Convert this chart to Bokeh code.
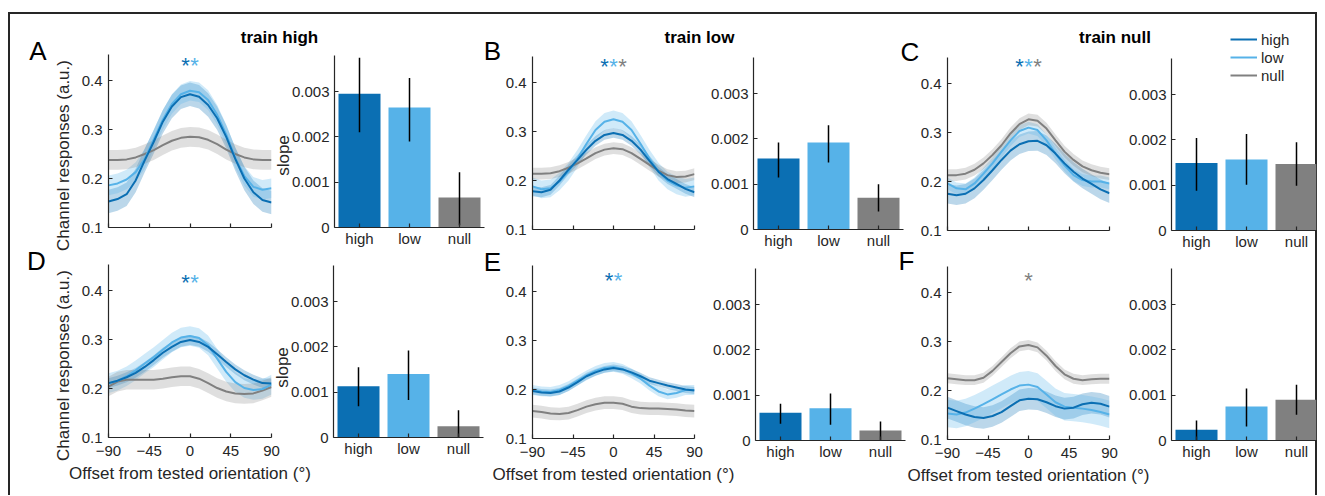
import math
import numpy as np
from bokeh.plotting import figure
from bokeh.models import (GridBox, Div, Range1d, FixedTicker, Label, Legend,
                          LegendItem, ColumnDataSource)
from bokeh.embed import file_html
from bokeh.resources import INLINE

FONT = "Liberation Sans"
INK = "#262626"

# ---------------------------------------------------------------- data
offsets = [-90, -80, -70, -60, -50, -40, -30, -20, -10, 0, 10, 20, 30, 40, 50, 60, 70, 80, 90]
conditions = ["high", "low", "null"]
cond_colors = ["#0b6fb3", "#56b2e8", "#808080"]

A_high = [0.153, 0.158, 0.168, 0.196, 0.237, 0.275, 0.316, 0.347, 0.366, 0.372, 0.367, 0.350, 0.323, 0.285, 0.240, 0.200, 0.172, 0.156, 0.151]
A_low = [0.186, 0.190, 0.198, 0.213, 0.240, 0.280, 0.320, 0.352, 0.372, 0.379, 0.376, 0.360, 0.330, 0.290, 0.242, 0.205, 0.183, 0.177, 0.180]
A_null = [0.238, 0.238, 0.239, 0.243, 0.250, 0.258, 0.268, 0.277, 0.283, 0.285, 0.284, 0.279, 0.270, 0.259, 0.250, 0.243, 0.239, 0.238, 0.238]
A_sem = [0.024, 0.020, 0.020]

B_high = [0.178, 0.176, 0.181, 0.200, 0.222, 0.242, 0.263, 0.281, 0.293, 0.297, 0.293, 0.281, 0.263, 0.240, 0.218, 0.203, 0.193, 0.183, 0.176]
B_low = [0.188, 0.182, 0.184, 0.198, 0.218, 0.245, 0.275, 0.303, 0.320, 0.325, 0.320, 0.303, 0.275, 0.245, 0.218, 0.200, 0.190, 0.185, 0.188]
B_null = [0.214, 0.214, 0.215, 0.219, 0.226, 0.235, 0.245, 0.256, 0.263, 0.266, 0.264, 0.256, 0.244, 0.232, 0.220, 0.211, 0.207, 0.208, 0.213]
B_sem = [0.010, 0.018, 0.012]

C_high = [0.175, 0.172, 0.175, 0.186, 0.203, 0.223, 0.244, 0.263, 0.276, 0.282, 0.283, 0.274, 0.257, 0.237, 0.220, 0.206, 0.195, 0.184, 0.176]
C_low = [0.196, 0.186, 0.184, 0.196, 0.216, 0.237, 0.261, 0.284, 0.303, 0.310, 0.305, 0.284, 0.257, 0.233, 0.213, 0.203, 0.200, 0.200, 0.196]
C_null = [0.213, 0.213, 0.216, 0.224, 0.237, 0.254, 0.274, 0.298, 0.317, 0.327, 0.324, 0.308, 0.284, 0.261, 0.244, 0.231, 0.223, 0.218, 0.215]
C_sem = [0.020, 0.012, 0.012]

D_high = [0.211, 0.216, 0.223, 0.232, 0.244, 0.258, 0.273, 0.285, 0.295, 0.299, 0.295, 0.285, 0.270, 0.254, 0.239, 0.227, 0.218, 0.211, 0.210]
D_low = [0.211, 0.216, 0.225, 0.237, 0.251, 0.264, 0.279, 0.294, 0.304, 0.307, 0.303, 0.288, 0.261, 0.234, 0.213, 0.201, 0.197, 0.199, 0.208]
D_null = [0.204, 0.214, 0.218, 0.218, 0.218, 0.218, 0.220, 0.223, 0.225, 0.225, 0.220, 0.211, 0.201, 0.194, 0.190, 0.189, 0.190, 0.196, 0.203]
D_sem = [0.010, 0.020, 0.020]

E_high = [0.197, 0.194, 0.193, 0.196, 0.204, 0.215, 0.227, 0.235, 0.241, 0.244, 0.241, 0.235, 0.227, 0.218, 0.213, 0.208, 0.204, 0.200, 0.198]
E_low = [0.199, 0.196, 0.195, 0.199, 0.207, 0.218, 0.229, 0.238, 0.244, 0.246, 0.242, 0.233, 0.222, 0.208, 0.196, 0.190, 0.193, 0.199, 0.199]
E_null = [0.156, 0.154, 0.151, 0.150, 0.152, 0.158, 0.165, 0.170, 0.173, 0.173, 0.171, 0.165, 0.162, 0.161, 0.161, 0.160, 0.159, 0.157, 0.156]
E_sem = [0.007, 0.010, 0.013]

F_high = [0.165, 0.158, 0.151, 0.146, 0.144, 0.148, 0.156, 0.168, 0.180, 0.183, 0.182, 0.176, 0.168, 0.163, 0.165, 0.172, 0.175, 0.173, 0.167]
F_low = [0.153, 0.151, 0.155, 0.163, 0.172, 0.182, 0.192, 0.202, 0.210, 0.212, 0.207, 0.192, 0.176, 0.167, 0.165, 0.163, 0.160, 0.156, 0.151]
F_null = [0.225, 0.223, 0.221, 0.221, 0.226, 0.240, 0.258, 0.276, 0.290, 0.293, 0.288, 0.271, 0.250, 0.233, 0.224, 0.221, 0.223, 0.224, 0.224]
F_sem = [0.022, 0.028, 0.010]

A_slope = [0.00295, 0.00265, 0.00066]
A_slope_lo = [0.00210, 0.00190, 0.00005]
A_slope_hi = [0.00375, 0.00330, 0.00122]
B_slope = [0.00157, 0.00192, 0.00070]
B_slope_lo = [0.00115, 0.00148, 0.00040]
B_slope_hi = [0.00192, 0.00230, 0.00100]
C_slope = [0.00149, 0.00157, 0.00147]
C_slope_lo = [0.00088, 0.00101, 0.00099]
C_slope_hi = [0.00204, 0.00213, 0.00195]
D_slope = [0.00113, 0.00140, 0.00025]
D_slope_lo = [0.00069, 0.00083, -0.00010]
D_slope_hi = [0.00155, 0.00192, 0.00060]
E_slope = [0.00061, 0.00071, 0.00022]
E_slope_lo = [0.00037, 0.00035, 0.00000]
E_slope_hi = [0.00081, 0.00104, 0.00042]
F_slope = [0.00024, 0.00075, 0.00090]
F_slope_lo = [-0.00003, 0.00031, 0.00057]
F_slope_hi = [0.00044, 0.00115, 0.00123]

line_y_ticks = [0.1, 0.2, 0.3, 0.4]
offset_ticks = [-90, -45, 0, 45, 90]
offset_tick_labels = ["\u221290", "\u221245", "0", "45", "90"]
slope_ticks = [0, 0.001, 0.002, 0.003]
slope_tick_labels = ["0", "0.001", "0.002", "0.003"]

titles = ["train high", "train low", "train null"]
stars = {"A": ["high", "low"], "B": ["high", "low", "null"], "C": ["high", "low", "null"],
         "D": ["high", "low"], "E": ["high", "low"], "F": ["null"]}

panels = {
    "A": (A_high, A_low, A_null, A_sem, A_slope, A_slope_lo, A_slope_hi),
    "B": (B_high, B_low, B_null, B_sem, B_slope, B_slope_lo, B_slope_hi),
    "C": (C_high, C_low, C_null, C_sem, C_slope, C_slope_lo, C_slope_hi),
    "D": (D_high, D_low, D_null, D_sem, D_slope, D_slope_lo, D_slope_hi),
    "E": (E_high, E_low, E_null, E_sem, E_slope, E_slope_lo, E_slope_hi),
    "F": (F_high, F_low, F_null, F_sem, F_slope, F_slope_lo, F_slope_hi),
}

# ---------------------------------------------------------------- layout (page px)
# frame: (left, right, top, bottom); canvas: (left, right, top, bottom)
LINE_GEOM = {
    "A": ((108, 271, 54, 227), (60, 277, 40, 257)),
    "B": ((532, 694, 56, 229), (490, 700, 40, 259)),
    "C": ((947, 1109, 57, 230), (905, 1115, 40, 260)),
    "D": ((108, 271, 264, 437), (60, 325, 250, 494)),
    "E": ((532, 694, 265, 438), (490, 745, 250, 494)),
    "F": ((947, 1109, 266, 439), (905, 1160, 250, 494)),
}
BAR_GEOM = {
    "A": ((334, 484, 55, 227), (285, 488, 45, 255)),
    "B": ((753, 903, 57, 229), (705, 907, 45, 257)),
    "C": ((1171, 1316, 58, 230), (1125, 1317, 45, 258)),
    "D": ((333, 483, 265, 437), (285, 487, 255, 466)),
    "E": ((755, 905, 268, 440), (705, 909, 258, 468)),
    "F": ((1171, 1316, 268, 440), (1121, 1317, 258, 468)),
}
OVERLAY_W, OVERLAY_H = 1317, 494
LETTER_POS = {"A": (37.5, 50.5), "B": (492, 50), "C": (909.5, 51),
              "D": (36, 260.5), "E": (492, 261), "F": (906, 260.5)}
STAR_Y = {"A": 61.7, "B": 63.3, "C": 63.3, "D": 279, "E": 276.7, "F": 277.3}
TITLE_POS = {"A": (279, 37), "B": (699, 37), "C": (1114.5, 37)}
YLABEL_POS = [(63.3, 155), (63.3, 365)]
SLOPE_POS = [(283, 155), (282, 367)]
LEGEND_TOPLEFT = (1230, 30)
BAR_UNIT_PX = 50.0


def make_fig(geom, x_range, y_range):
    (FL, FR, FT, FB), (CL, CR, CT, CB) = geom
    p = figure(width=CR - CL, height=CB - CT, x_range=x_range, y_range=y_range,
               output_backend="svg", toolbar_location=None, title=None,
               min_border_left=FL - CL, min_border_right=CR - FR,
               min_border_top=FT - CT, min_border_bottom=CB - FB)
    p.frame_align = False
    p.margin = (CT, 0, 0, CL)
    p.border_fill_color = None
    p.background_fill_color = None
    p.outline_line_color = None
    p.xgrid.visible = False
    p.ygrid.visible = False
    for ax in p.axis:
        ax.axis_line_color = INK
        ax.axis_line_width = 1.2
        ax.major_tick_line_color = INK
        ax.major_tick_line_width = 1.2
        ax.major_tick_in = 4
        ax.major_tick_out = 0
        ax.minor_tick_line_color = None
        ax.major_label_text_font = FONT
        ax.major_label_text_font_size = "15px"
        ax.major_label_text_color = INK
        ax.axis_label_text_font = FONT
        ax.axis_label_text_font_size = "17px"
        ax.axis_label_text_font_style = "normal"
        ax.axis_label_text_color = INK
    return p


def add_text(p, x, y, text, size, color="black", bold=False, angle=0.0,
             x_units="screen", baseline="middle", x_offset=0):
    p.add_layout(Label(x=x, y=y, x_units=x_units, y_units="screen", text=text,
                       text_font=FONT, text_font_size=size, text_color=color,
                       text_font_style="bold" if bold else "normal",
                       text_align="center", text_baseline=baseline, angle=angle,
                       x_offset=x_offset))


figs = []
for key, (hi, lo, nu, sem, slope, slo, shi) in panels.items():
    bottom_row = key in ("D", "E", "F")
    # ---------------- tuning-curve panel
    g = LINE_GEOM[key]
    (FL, FR, FT, FB), _ = g
    lf = make_fig(g, Range1d(offsets[0], offsets[-1]),
                  Range1d(0.1, 0.1 + (FB - FT) / 490.0))
    lf.xaxis.ticker = FixedTicker(ticks=offset_ticks)
    lf.yaxis.ticker = FixedTicker(ticks=line_y_ticks)
    lf.yaxis.major_label_standoff = 6
    if bottom_row:
        lf.xaxis.major_label_overrides = dict(zip(offset_ticks, offset_tick_labels))
        lf.xaxis.major_label_standoff = 8
        lf.xaxis.axis_label = "Offset from tested orientation (\u00b0)"
        lf.xaxis.axis_label_standoff = 5
    else:
        lf.xaxis.major_label_overrides = {t: "" for t in offset_ticks}
    series = [hi, lo, nu]
    alphas = [0.28, 0.28, 0.25]
    for s, sd, col, a in zip(series, sem, cond_colors, alphas):
        arr = np.array(s)
        lf.varea(x=offsets, y1=arr - sd, y2=arr + sd, fill_color=col, fill_alpha=a)
    for idx in (2, 1, 0):
        lf.line(offsets, series[idx], line_color=cond_colors[idx], line_width=2)
    # significance stars (inside the frame, centred on offset 0)
    conds = stars[key]
    n = len(conds)
    for i, c in enumerate(conds):
        add_text(lf, 0, FB - STAR_Y[key] - 3, "*", "22px",
                 color=cond_colors[conditions.index(c)], x_units="data",
                 baseline="alphabetic", x_offset=(i - (n - 1) / 2) * 9)
    figs.append(lf)

    # ---------------- slope bar panel
    gb = BAR_GEOM[key]
    (FL, FR, FT, FB), _ = gb
    bf = make_fig(gb, Range1d(0.5, 0.5 + (FR - FL) / BAR_UNIT_PX),
                  Range1d(0, (FB - FT) / 45.3 * 0.001))
    xpos = list(range(1, len(conditions) + 1))
    bf.xaxis.ticker = FixedTicker(ticks=xpos)
    bf.xaxis.major_label_overrides = dict(zip(xpos, conditions))
    bf.xaxis.major_label_standoff = 2
    bf.yaxis.ticker = FixedTicker(ticks=slope_ticks)
    bf.yaxis.major_label_overrides = dict(zip(slope_ticks, slope_tick_labels))
    bf.yaxis.major_label_standoff = 5
    src = ColumnDataSource(dict(x=xpos, top=slope, lo=slo, hi=shi, color=cond_colors))
    bf.vbar(x="x", top="top", bottom=0, width=0.84, fill_color="color", line_color=None, source=src)
    bf.segment(x0="x", y0="lo", x1="x", y1="hi", line_color="black", line_width=1.5, source=src)
    figs.append(bf)

# ---------------- overlay figure for all text outside the axes
ov = figure(width=OVERLAY_W, height=OVERLAY_H, x_range=Range1d(0, 1), y_range=Range1d(0, 1),
            output_backend="svg", toolbar_location=None, title=None,
            x_axis_location=None, y_axis_location=None, min_border=0)
ov.frame_align = False
ov.margin = (0, 0, 0, 0)
ov.border_fill_color = None
ov.background_fill_color = None
ov.outline_line_color = None
ov.xgrid.visible = False
ov.ygrid.visible = False

for key, (px, py) in LETTER_POS.items():
    add_text(ov, px, OVERLAY_H - py, key, "26px", color="black")
for key, (px, py) in TITLE_POS.items():
    add_text(ov, px, OVERLAY_H - py, titles["ABC".index(key)], "17px", color="black", bold=True)
for px, py in YLABEL_POS:
    add_text(ov, px, OVERLAY_H - py, "Channel responses (a.u.)", "17px", color=INK, angle=math.pi / 2)
for px, py in SLOPE_POS:
    add_text(ov, px, OVERLAY_H - py, "slope", "17px", color=INK, angle=math.pi / 2)

# legend: proxies of the panel-C curves (hidden in this overlay, shown only as legend swatches)
items = []
for c, col, s in zip(conditions, cond_colors, [C_high, C_low, C_null]):
    r = ov.line(x=offsets, y=s, line_color=col, line_width=2, visible=False)
    items.append(LegendItem(label=c, renderers=[r]))
leg = Legend(items=items, location=(LEGEND_TOPLEFT[0], OVERLAY_H - LEGEND_TOPLEFT[1] - 54),
             glyph_width=27, glyph_height=18, label_height=18, spacing=0,
             padding=0, margin=0, label_standoff=4,
             label_text_font=FONT, label_text_font_size="15px",
             label_text_color=INK, border_line_color=None,
             background_fill_alpha=0, inactive_fill_alpha=0)
ov.add_layout(leg)

frame_div = Div(text="", width=1309, height=483, margin=(12, 0, 0, 8),
                styles={"border-top": "2px solid #262626", "border-left": "2px solid #262626",
                        "border-right": "2px solid #262626", "box-sizing": "border-box"})

layout = GridBox(children=[(frame_div, 0, 0)] + [(f, 0, 0) for f in figs] + [(ov, 0, 0)])

open("out.html", "w").write(file_html(layout, INLINE))
